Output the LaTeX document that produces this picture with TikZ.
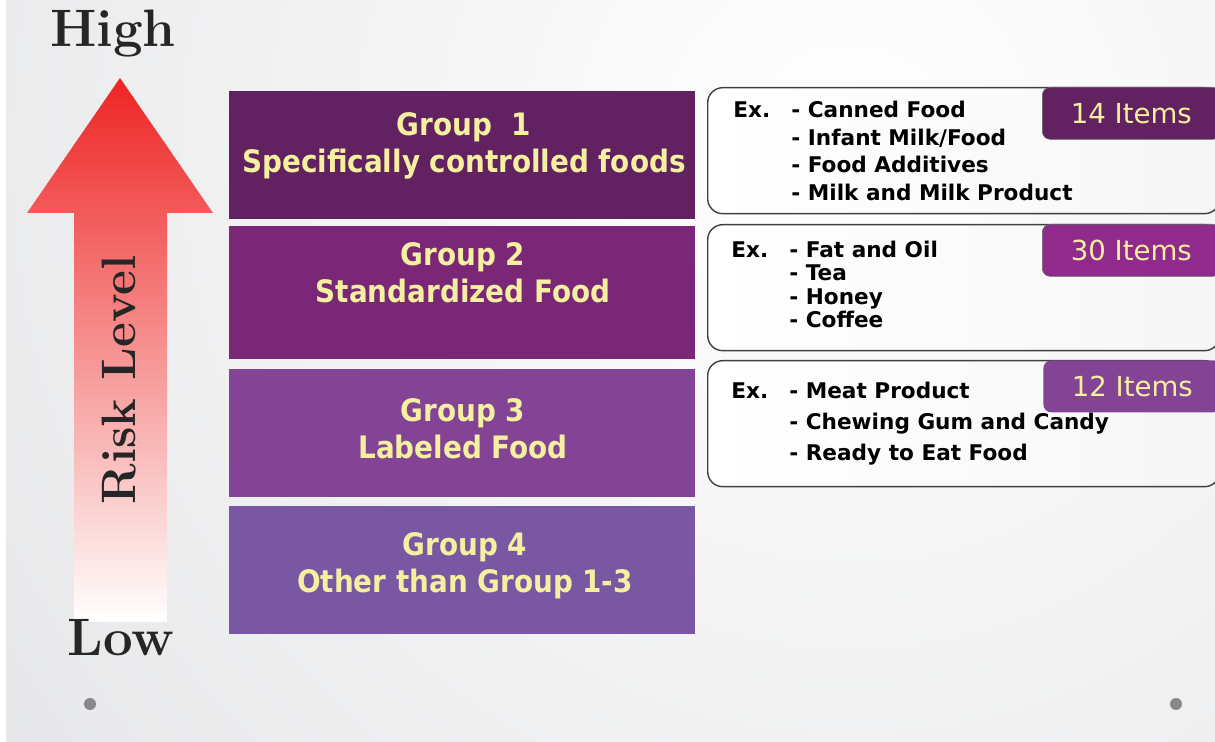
\documentclass[tikz,border=0pt]{standalone}
\usepackage{fontspec}
\newfontfamily\tahoma{DejaVu Sans Condensed}
\newfontfamily\tahomawide{DejaVu Sans}
\usetikzlibrary{positioning}

\definecolor{grpone}{RGB}{98,33,96}
\definecolor{grptwo}{RGB}{123,39,120}
\definecolor{grpthree}{RGB}{131,68,150}
\definecolor{grpfour}{RGB}{122,87,163}
\definecolor{tagtwo}{RGB}{144,42,140}
\definecolor{paleyellow}{RGB}{245,239,160}
\definecolor{bgdark}{RGB}{210,211,214}
\definecolor{riskred}{RGB}{238,36,36}
\definecolor{riskpink}{RGB}{247,175,175}
\definecolor{dotgray}{RGB}{135,136,140}

\begin{document}
\begin{tikzpicture}[x=0.02cm,y=-0.02cm,
    grpbox/.style={fill=#1, minimum width=9.34cm, inner sep=0pt},
    grptext/.style={text=paleyellow, align=center, inner sep=0pt,
      font=\tahoma\bfseries\fontsize{17.6}{21.2}\selectfont},
    exbox/.style={draw=black!75, line width=0.8pt, rounded corners=0.3cm,
      left color=white, right color=white!80!bgdark, minimum width=10.24cm,
      minimum height=2.52cm, anchor=north west, inner sep=0pt},
    tag/.style={fill=#1, draw=black!60, rounded corners=0.16cm, minimum width=3.56cm,
      minimum height=1.04cm, anchor=north west, inner sep=0pt},
    tagtext/.style={text=paleyellow, font=\tahomawide\fontsize{15.7}{18}\selectfont},
    extext/.style={anchor=west, inner sep=0pt, font=\tahomawide\bfseries\fontsize{12.3}{14}\selectfont},
    listtext/.style={anchor=north west, inner sep=0pt, align=left},
    level/.style={font=\bfseries\fontsize{30}{32}\selectfont, text=black!85, inner sep=0pt},
    dot/.style={circle, fill=dotgray, minimum size=0.24cm, inner sep=0pt}
  ]
  \useasboundingbox (0,0) rectangle (1215,742);
  % background
  \fill[white] (0,0) rectangle (1215,742);
  \begin{scope}
    \clip (6,0) rectangle (1215,742);
    \shade[inner color=white, outer color=bgdark] (850,150) circle (1900);
  \end{scope}

  % risk arrow
  \shade[top color=riskred, middle color=riskpink, bottom color=white]
    (74,622) -- (74,213) -- (27,213) -- (120,78) -- (213,213)
    -- (167,213) -- (167,622) -- cycle;
  \node[level, anchor=base] (high) at (113,47) {High};
  \node[level, anchor=base] (low) at (121,656) {Low};
  \node[level, anchor=base, rotate=90, font=\bfseries\fontsize{27.5}{30}\selectfont] (risk) at (135,380) {Risk Level};

  % groups
  \node[grpbox=grpone, minimum height=2.58cm] (g1) at (462,155) {};
  \node[grpbox=grptwo, minimum height=2.66cm, below=0.12cm of g1] (g2) {};
  \node[grpbox=grpthree, minimum height=2.56cm, below=0.18cm of g2] (g3) {};
  \node[grpbox=grpfour, minimum height=2.56cm, below=0.16cm of g3] (g4) {};
  \node[grptext] (t1) at (464,146) {Group\ \ 1\\Specifically controlled foods};
  \node[grptext] (t2) at (463,273) {Group 2\\Standardized Food};
  \node[grptext] (t3) at (463,429) {Group 3\\Labeled Food};
  \node[grptext] (t4) at (465,566) {Group 4\\Other than Group 1-3};

  % examples
  \node[exbox] (e1) at (707,87) {};
  \node[exbox] (e2) at (707,224) {};
  \node[exbox] (e3) at (707,360) {};
  \node[tag=grpone] (i1) at (1042,87) {};
  \node[tag=tagtwo] (i2) at (1042,224) {};
  \node[tag=grpthree, draw=none] (i3) at (1043,360) {};
  \node[tagtext] at (i1.center) {14 Items};
  \node[tagtext] at (i2.center) {30 Items};
  \node[tagtext] at (i3.center) {12 Items};

  \node[extext] (x1) at (733,110) {Ex.};
  \node[extext] (x2) at (731,250) {Ex.};
  \node[extext] (x3) at (731,391) {Ex.};
  \node[listtext, font=\tahomawide\bfseries\fontsize{12.3}{15.7}\selectfont] (l1) at (791,101)
    {- Canned Food\\- Infant Milk/Food\\- Food Additives\\- Milk and Milk Product};
  \node[listtext, font=\tahomawide\bfseries\fontsize{12.3}{13.2}\selectfont] (l2) at (789,241)
    {- Fat and Oil\\- Tea\\- Honey\\- Coffee};
  \node[listtext, font=\tahomawide\bfseries\fontsize{12.3}{17.6}\selectfont] (l3) at (789,382)
    {- Meat Product\\- Chewing Gum and Candy\\- Ready to Eat Food};

  \node[dot] (dl) at (90,704) {};
  \node[dot] (dr) at (1176,704) {};
\end{tikzpicture}
\end{document}
